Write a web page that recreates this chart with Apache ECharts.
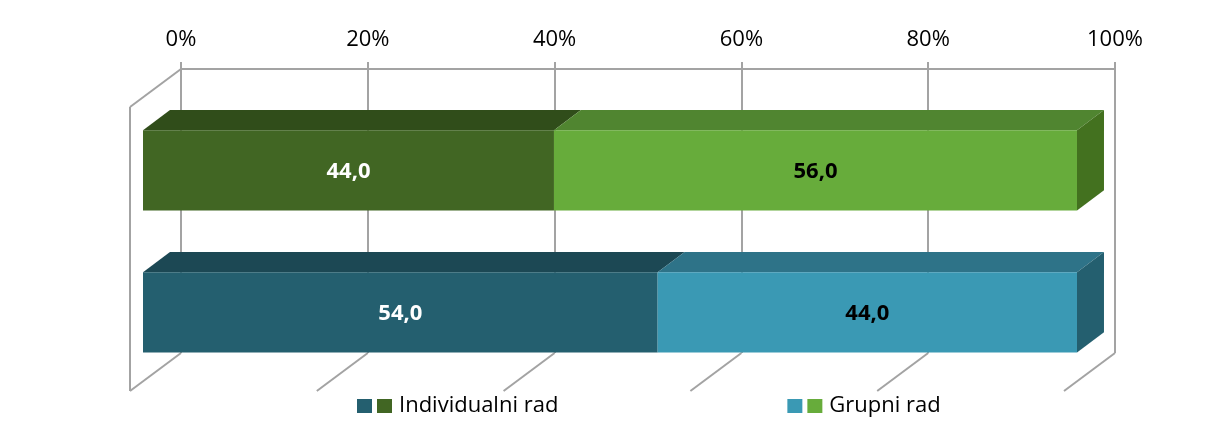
<!DOCTYPE html>
<html><head><meta charset="utf-8">
<script src="https://cdn.jsdelivr.net/npm/echarts@6/dist/echarts.min.js"></script>
<style>html,body{margin:0;padding:0;background:#fff}#c{width:1209px;height:421px}</style>
</head><body><div id="c"></div>
<script>
// ---- data ----
const categories = ['Skupina 1', 'Skupina 2'];
const seriesNames = ['Individualni rad', 'Grupni rad'];
const individualni = [44.0, 54.0];
const grupni = [56.0, 44.0];
const tickValues = [0, 20, 40, 60, 80, 100];

// ---- styles ----
const FONT = '"Open Sans", "Noto Sans", sans-serif';
const DEPTH = { dx: -51, dy: 38 };
const FRONT = 0.745, BACK = 0.216;
const BAR_SHIFT_Y = 2;
const palette = {
  dark: [{ front: '#416623', top: '#304d1a', side: '#3b5f20', text: '#ffffff' },
         { front: '#245f6f', top: '#1c4854', side: '#1f5564', text: '#ffffff' }],
  light: [{ front: '#67ac3b', top: '#508530', side: '#43711f', text: '#000000' },
          { front: '#3a99b4', top: '#2e7388', side: '#245f6f', text: '#000000' }]
};
const gridColor = '#a3a3a3';

function pct(v, i) { return v / (individualni[i] + grupni[i]) * 100; }
function fmt(v) { return v.toFixed(1).replace('.', ','); }

const darkData = categories.map((c, i) => [0, pct(individualni[i], i), i, individualni[i]]);
const lightData = categories.map((c, i) => [pct(individualni[i], i), 100, i, grupni[i]]);

function barRender(kind) {
  return function (params, api) {
    const start = api.value(0), end = api.value(1), ci = api.value(2), raw = api.value(3);
    const a = api.coord([start, ci]), b = api.coord([end, ci]);
    const band = api.size([0, 1])[1];
    const h = band * 0.565;
    const fx = DEPTH.dx * FRONT, fy = DEPTH.dy * FRONT + BAR_SHIFT_Y;
    const bx = DEPTH.dx * BACK, by = DEPTH.dy * BACK + BAR_SHIFT_Y;
    const ddx = bx - fx, ddy = by - fy;
    const x0 = a[0] + fx, x1 = b[0] + fx, yT = a[1] - h / 2 + fy, yB = a[1] + h / 2 + fy;
    const col = palette[kind][ci];
    const children = [
      { type: 'polygon', shape: { points: [[x0, yT], [x1, yT], [x1 + ddx, yT + ddy], [x0 + ddx, yT + ddy]] }, style: { fill: col.top } },
      { type: 'rect', shape: { x: x0, y: yT, width: x1 - x0, height: yB - yT }, style: { fill: col.front } }
    ];
    if (kind === 'light') {
      children.push({ type: 'polygon', shape: { points: [[x1, yT], [x1 + ddx, yT + ddy], [x1 + ddx, yB + ddy], [x1, yB]] }, style: { fill: col.side } });
    }
    children.push({ type: 'text', style: { text: fmt(raw), x: (x0 + x1) / 2, y: (yT + yB) / 2 + 1, align: 'center', verticalAlign: 'middle', fill: col.text, font: 'bold 22px ' + FONT } });
    return { type: 'group', children: children };
  };
}

function frameRender(params, api) {
  const cs = params.coordSys;
  const x = api.coord([api.value(0), 0])[0];
  const top = cs.y, bottom = cs.y + cs.height;
  const ls = { stroke: gridColor, lineWidth: 2 };
  const ch = [{ type: 'line', shape: { x1: x, y1: bottom, x2: x + DEPTH.dx, y2: bottom + DEPTH.dy }, style: ls }];
  if (params.dataIndex === 0) {
    ch.push({ type: 'line', shape: { x1: x, y1: top, x2: x + DEPTH.dx, y2: top + DEPTH.dy }, style: ls });
    ch.push({ type: 'line', shape: { x1: x + DEPTH.dx, y1: top + DEPTH.dy, x2: x + DEPTH.dx, y2: bottom + DEPTH.dy }, style: ls });
  }
  return { type: 'group', children: ch };
}

const chart = echarts.init(document.getElementById('c'), null, { renderer: 'canvas' });
chart.setOption({
  animation: false,
  backgroundColor: '#ffffff',
  grid: { left: 181, right: 94, top: 69, bottom: 68 },
  xAxis: {
    type: 'value', position: 'top', min: 0, max: 100, interval: 20,
    axisLine: { show: true, lineStyle: { color: gridColor, width: 2 } },
    axisTick: { show: true, length: 7, lineStyle: { color: gridColor, width: 2 } },
    axisLabel: { formatter: '{value}%', color: '#000', fontSize: 22, fontFamily: FONT, margin: 18 },
    splitLine: { show: true, lineStyle: { color: gridColor, width: 2 } }
  },
  yAxis: {
    type: 'category', data: categories, inverse: true,
    axisLine: { show: false }, axisTick: { show: false }, axisLabel: { show: false }, splitLine: { show: false }
  },
  legend: {
    data: seriesNames, left: 352, top: 390, itemGap: 229, itemWidth: 15, itemHeight: 14, icon: 'rect',
    selectedMode: false,
    formatter: function (name) { return '{sq' + seriesNames.indexOf(name) + '|}{t|' + name + '}'; },
    textStyle: {
      color: '#000', fontFamily: FONT, fontSize: 22,
      rich: {
        sq0: { width: 15, height: 14, backgroundColor: palette.dark[0].front },
        sq1: { width: 15, height: 14, backgroundColor: palette.light[0].front },
        t: { fontSize: 22, fontFamily: FONT, color: '#000', padding: [0, 0, 0, 7] }
      }
    }
  },
  series: [
    { type: 'custom', name: 'frame', z: 1, silent: true, renderItem: frameRender, encode: { x: 0, y: 1 }, data: tickValues.map(v => [v, 0]) },
    { type: 'custom', name: seriesNames[0], z: 3, renderItem: barRender('dark'), itemStyle: { color: palette.dark[1].front }, encode: { x: [0, 1], y: 2 }, data: darkData },
    { type: 'custom', name: seriesNames[1], z: 3, renderItem: barRender('light'), itemStyle: { color: palette.light[1].front }, encode: { x: [0, 1], y: 2 }, data: lightData }
  ]
});
</script></body></html>
